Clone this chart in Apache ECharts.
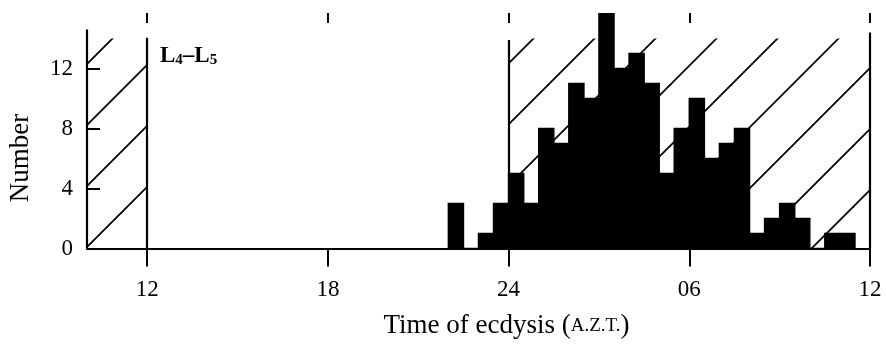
<!DOCTYPE html>
<html>
<head>
<meta charset="utf-8">
<title>Time of ecdysis L4-L5</title>
<script src="https://cdn.jsdelivr.net/npm/echarts@6/dist/echarts.min.js"></script>
<style>
  html, body { margin: 0; padding: 0; background: #fff; }
  #chart { width: 886px; height: 349px; }
</style>
</head>
<body>
<div id="chart"></div>
<script>
  // half-hour bins, start hour in A.Z.T. (hours past 24 = next day)
  const binStarts = [22.0, 22.5, 23.0, 23.5, 24.0, 24.5, 25.0, 25.5, 26.0, 26.5, 27.0, 27.5, 28.0, 28.5,
                     29.0, 29.5, 30.0, 30.5, 31.0, 31.5, 32.0, 32.5, 33.0, 33.5, 34.0, 34.5, 35.0];
  const counts = [3, 0, 1, 3, 5, 3, 8, 7, 11, 10, 16, 12, 13, 11,
                  5, 8, 10, 6, 7, 8, 1, 2, 3, 2, 0, 1, 1];
  const binWidth = 0.5;

  const xTicks = [12, 18, 24, 30, 36];
  const xTickLabels = ['12', '18', '24', '06', '12'];
  const yTicks = [0, 4, 8, 12];

  // dark (hatched) periods
  const darkPeriods = [[10, 12], [24, 36]];
  const darkTop = 14;
  // vertical frame lines
  const frameX = [10, 12, 24, 36];
  const frameTop = [14.6, 14.05, 13.9, 14.4];

  const serif = '"Liberation Serif", "Times New Roman", serif';

  function makeHatch(offset) {
    const size = 61;
    const cv = document.createElement('canvas');
    cv.width = size;
    cv.height = size;
    const ctx = cv.getContext('2d');
    ctx.strokeStyle = '#000';
    ctx.lineWidth = 1.8;
    [offset, offset + size].forEach(function (c) {
      ctx.beginPath();
      ctx.moveTo(-3, c + 3);
      ctx.lineTo(c + 3, -3);
      ctx.stroke();
    });
    return cv;
  }
  const hatchOffsets = [29, 23];

  const chart = echarts.init(document.getElementById('chart'));
  const option = {
    animation: false,
    grid: { left: 87, right: 16, top: 13, bottom: 100.5 },
    xAxis: [
      {
        type: 'value',
        min: 10,
        max: 36,
        axisLine: { lineStyle: { color: '#000', width: 2 } },
        axisTick: { customValues: xTicks, length: 18, lineStyle: { color: '#000', width: 2 } },
        axisLabel: {
          customValues: xTicks,
          formatter: function (v) { return xTickLabels[xTicks.indexOf(v)]; },
          margin: 30,
          color: '#000',
          fontFamily: serif,
          fontSize: 23
        },
        splitLine: { show: false },
        name: 'Time of ecdysis ({sc|A.Z.T.})',
        nameLocation: 'middle',
        nameGap: 64,
        nameTextStyle: {
          color: '#000',
          fontFamily: serif,
          fontSize: 27,
          padding: [0, 0, 0, 56],
          rich: { sc: { fontFamily: serif, fontSize: 19, color: '#000' } }
        }
      },
      {
        type: 'value',
        position: 'top',
        min: 10,
        max: 36,
        axisLine: { show: false },
        axisTick: { inside: true, customValues: xTicks, length: 10, lineStyle: { color: '#000', width: 2 } },
        axisLabel: { show: false },
        splitLine: { show: false }
      }
    ],
    yAxis: {
      type: 'value',
      min: 0,
      max: 15.7,
      axisLine: { show: false },
      axisTick: { inside: true, customValues: yTicks, length: 13, lineStyle: { color: '#000', width: 2 } },
      axisLabel: { customValues: yTicks, margin: 14, color: '#000', fontFamily: serif, fontSize: 23 },
      splitLine: { show: false }
    },
    graphic: [
      {
        type: 'text',
        x: 21,
        y: 158,
        rotation: Math.PI / 2,
        style: { text: 'Number', fontFamily: serif, fontSize: 27, fill: '#000', align: 'center', verticalAlign: 'middle' }
      },
      {
        type: 'text',
        x: 160,
        y: 44,
        style: {
          text: '{m|L}{s|4}{m|–L}{s|5}',
          fill: '#000',
          rich: {
            m: { fontFamily: serif, fontSize: 23, fontWeight: 'bold', lineHeight: 24, verticalAlign: 'bottom', fill: '#000' },
            s: { fontFamily: serif, fontSize: 15, fontWeight: 'bold', lineHeight: 16, verticalAlign: 'bottom', fill: '#000' }
          }
        }
      }
    ],
    series: [
      {
        type: 'line',
        data: [],
        z: 1,
        silent: true,
        markArea: {
          silent: true,
          data: darkPeriods.map(function (p, i) {
            return [
              { xAxis: p[0], yAxis: 0, itemStyle: { color: { image: makeHatch(hatchOffsets[i]), repeat: 'repeat' }, borderWidth: 0 } },
              { xAxis: p[1], yAxis: darkTop }
            ];
          })
        },
        markLine: {
          silent: true,
          symbol: 'none',
          label: { show: false },
          lineStyle: { color: '#000', width: 2.2, type: 'solid' },
          data: frameX.map(function (x, i) {
            return [{ coord: [x, 0] }, { coord: [x, frameTop[i]] }];
          })
        }
      },
      {
        type: 'custom',
        z: 5,
        clip: true,
        encode: { x: 0, y: 1 },
        data: binStarts.map(function (s, i) { return [s, counts[i]]; }),
        renderItem: function (params, api) {
          const start = api.value(0);
          const top = api.coord([start, api.value(1)]);
          const base = api.coord([start + binWidth, 0]);
          return {
            type: 'rect',
            shape: { x: top[0], y: top[1], width: base[0] - top[0], height: base[1] - top[1] },
            style: { fill: '#000', stroke: '#000', lineWidth: 1.5 }
          };
        }
      }
    ]
  };
  chart.setOption(option);
</script>
</body>
</html>
